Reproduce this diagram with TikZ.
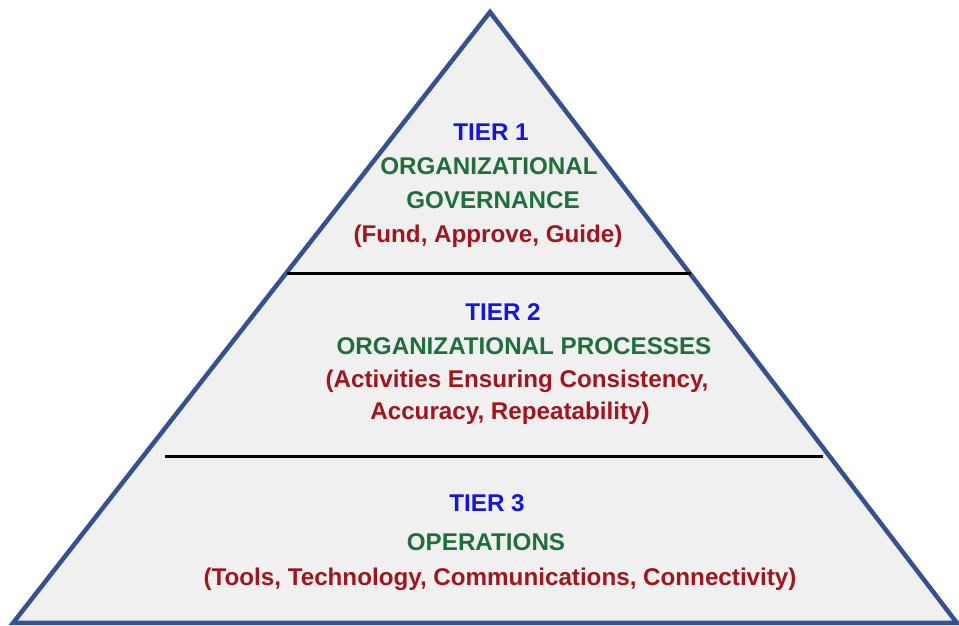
\documentclass[tikz,border=0pt]{standalone}
\usepackage{fontspec}
\setmainfont{Liberation Sans}
\usetikzlibrary{positioning}
\definecolor{pyr-blue}{HTML}{36518F}
\definecolor{pyr-fill}{HTML}{F0F0F0}
\definecolor{tier-blue}{HTML}{1515DC}
\definecolor{tier-green}{HTML}{1F6F3A}
\definecolor{tier-red}{HTML}{A0161E}
\tikzset{
  tier-text/.style={anchor=base, inner sep=0pt, font=\fontsize{24.2}{28}\selectfont\bfseries},
  tier-title/.style={tier-text, text=tier-blue},
  tier-name/.style={tier-text, text=tier-green},
  tier-role/.style={tier-text, text=tier-red},
  tier-line/.style={line width=3pt, black},
  pyramid/.style={draw=pyr-blue, fill=pyr-fill, line width=4.5pt, line join=miter},
}

\begin{document}
\begin{tikzpicture}[x=1pt, y=1pt]
\useasboundingbox (0,0) rectangle (959,626);
\coordinate (apex) at (490, 614);
\coordinate (left) at (13, 3);
\coordinate (right) at (957, 3);
\draw[pyramid] (apex) -- (right) -- (left) -- cycle;
\coordinate (cut1 left) at (287, 352);
\coordinate (cut1 right) at (691, 352);
\coordinate (cut2 left) at (165, 169);
\coordinate (cut2 right) at (823, 169);
\draw[tier-line] (cut1 left) -- (cut1 right);
\draw[tier-line] (cut2 left) -- (cut2 right);
% tier 1
\node[tier-title] at (491, 485) (tier1) {TIER 1};
\node[tier-name] at (489, 451) (governance a) {ORGANIZATIONAL};
\node[tier-name] at (493, 417) (governance b) {GOVERNANCE};
\node[tier-role] at (488, 383) (governance role) {(Fund, Approve, Guide)};
% tier 2
\node[tier-title] at (503, 305) (tier2) {TIER 2};
\node[tier-name] at (524, 271) (processes) {ORGANIZATIONAL PROCESSES};
\node[tier-role] at (517, 238) (processes role a) {(Activities Ensuring Consistency,};
\node[tier-role] at (510, 206) (processes role b) {Accuracy, Repeatability)};
% tier 3
\node[tier-title] at (487, 114) (tier3) {TIER 3};
\node[tier-name] at (486, 75) (operations) {OPERATIONS};
\node[tier-role] at (500, 40) (operations role) {(Tools, Technology, Communications, Connectivity)};
\end{tikzpicture}
\end{document}
